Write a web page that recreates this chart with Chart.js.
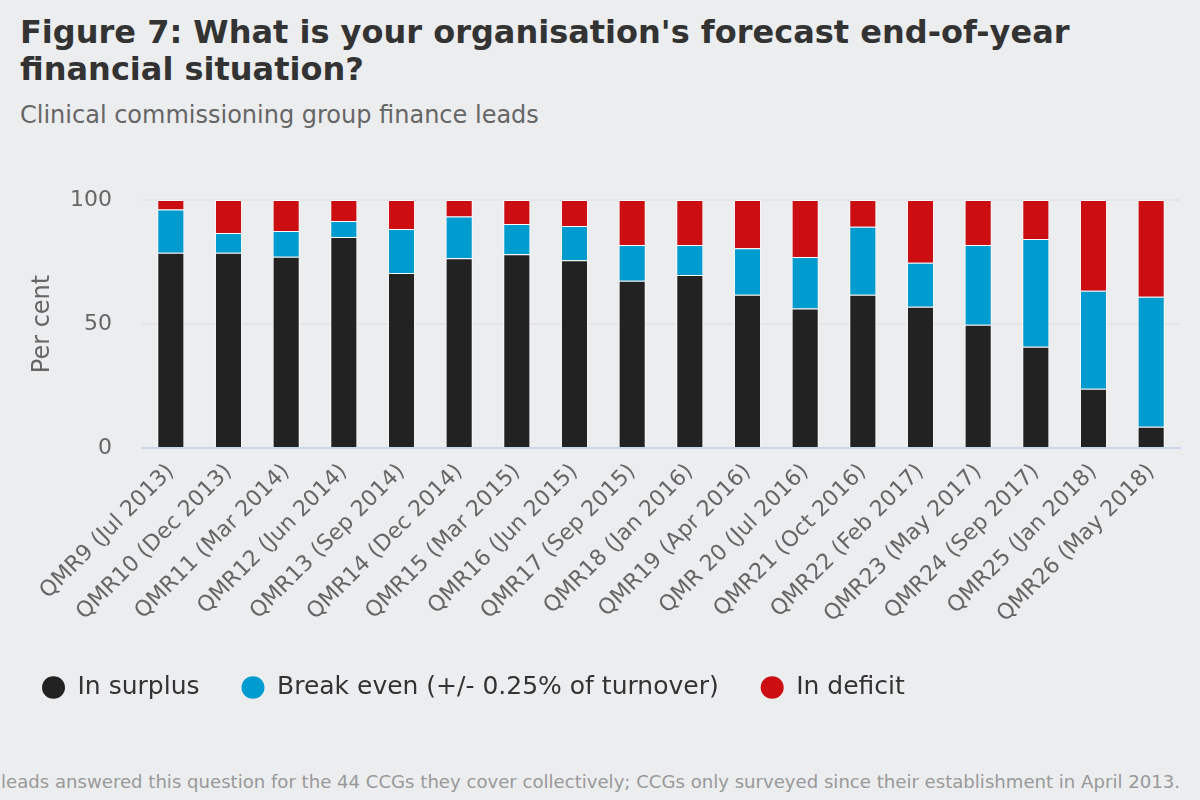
<!DOCTYPE html>
<html>
<head>
<meta charset="utf-8">
<script src="https://cdn.jsdelivr.net/npm/chart.js@4.4.1/dist/chart.umd.min.js"></script>
<style>
  html, body { margin:0; padding:0; background:#ecedef; width:1200px; height:800px; overflow:hidden; font-family:"DejaVu Sans", Verdana, sans-serif; }
  #title { position:absolute; left:20px; top:14px; width:1160px; font-size:32px; font-weight:bold; color:#333; line-height:37px; }
  #subtitle { position:absolute; left:20px; top:101px; font-size:24px; color:#666; }
  #footer { position:absolute; right:20px; top:771px; font-size:18.1px; color:#999; white-space:nowrap; }
  #wrap { position:absolute; left:0; top:150px; width:1200px; height:570px; }
</style>
</head>
<body>
<div id="title">Figure 7: What is your organisation's forecast end-of-year financial situation?</div>
<div id="subtitle">Clinical commissioning group finance leads</div>
<div id="wrap"><canvas id="c"></canvas></div>
<div id="footer">Note: Finance leads answered this question for the 44 CCGs they cover collectively; CCGs only surveyed since their establishment in April 2013.</div>
<script>
const categories = ["QMR9 (Jul 2013)","QMR10 (Dec 2013)","QMR11 (Mar 2014)","QMR12 (Jun 2014)","QMR13 (Sep 2014)","QMR14 (Dec 2014)","QMR15 (Mar 2015)","QMR16 (Jun 2015)","QMR17 (Sep 2015)","QMR18 (Jan 2016)","QMR19 (Apr 2016)","QMR 20 (Jul 2016)","QMR21 (Oct 2016)","QMR22 (Feb 2017)","QMR23 (May 2017)","QMR24 (Sep 2017)","QMR25 (Jan 2018)","QMR26 (May 2018)"];
const surplus   = [78.7, 78.7, 77.1, 85.1, 70.6, 76.5, 78.1, 75.7, 67.4, 69.8, 61.8, 56.2, 61.8, 57.0, 49.7, 40.8, 23.9, 8.6];
const breakEven = [17.5, 8.0, 10.4, 6.4, 17.7, 16.8, 12.2, 13.8, 14.5, 12.1, 18.7, 20.8, 27.4, 17.7, 32.2, 43.5, 39.5, 52.4];
const deficit   = [3.8, 13.3, 12.5, 8.5, 11.7, 6.7, 9.7, 10.5, 18.1, 18.1, 19.5, 23.0, 10.8, 25.3, 18.1, 15.7, 36.6, 39.0];
const yTicks = [0, 50, 100];

const font = "'DejaVu Sans', Verdana, sans-serif";
function ds(label, data, color) {
  return { label, data, backgroundColor: color, borderColor: '#ffffff', borderWidth: 1, barPercentage: 0.47, categoryPercentage: 1 };
}
new Chart(document.getElementById('c'), {
  type: 'bar',
  data: {
    labels: categories,
    datasets: [
      ds('In surplus', surplus, '#222222'),
      ds('Break even (+/- 0.25% of turnover)', breakEven, '#009bcf'),
      ds('In deficit', deficit, '#cc0d11')
    ]
  },
  options: {
    responsive: true,
    maintainAspectRatio: false,
    animation: false,
    layout: { padding: { left: 0, right: 20, top: 50, bottom: 10 } },
    plugins: {
      tooltip: { enabled: false },
      legend: {
        position: 'bottom',
        align: 'start',
        labels: {
          usePointStyle: true,
          pointStyle: 'circle',
          boxHeight: 16,
          pointStyleWidth: 23,
          padding: 42,
          color: '#333',
          font: { family: font, size: 25 },
          generateLabels(chart) {
            const items = Chart.defaults.plugins.legend.labels.generateLabels(chart);
            items.forEach(it => { it.strokeStyle = it.fillStyle; it.lineWidth = 0; });
            return items;
          }
        }
      }
    },
    scales: {
      x: {
        stacked: true,
        grid: { display: false },
        border: { display: true, color: '#ccd6eb', width: 2 },
        afterFit(scale) { scale.height = 185; },
        ticks: { maxRotation: 45, minRotation: 45, autoSkip: false, color: '#666', font: { family: font, size: 22 } }
      },
      y: {
        stacked: true,
        min: 0, max: 100,
        afterBuildTicks(scale) { scale.ticks = yTicks.map(v => ({ value: v })); },
        afterFit(scale) { scale.width = 142; },
        grid: { color: ctx => (ctx.tick && ctx.tick.value === 0) ? 'rgba(0,0,0,0)' : '#e4e5e7', lineWidth: 2, drawTicks: false },
        border: { display: false },
        ticks: { color: '#666', padding: 30, font: { family: font, size: 22 } },
        title: { display: true, text: 'Per cent', color: '#666', font: { family: font, size: 24 }, padding: { top: 28, bottom: 0 } }
      }
    }
  }
});
</script>
</body>
</html>
